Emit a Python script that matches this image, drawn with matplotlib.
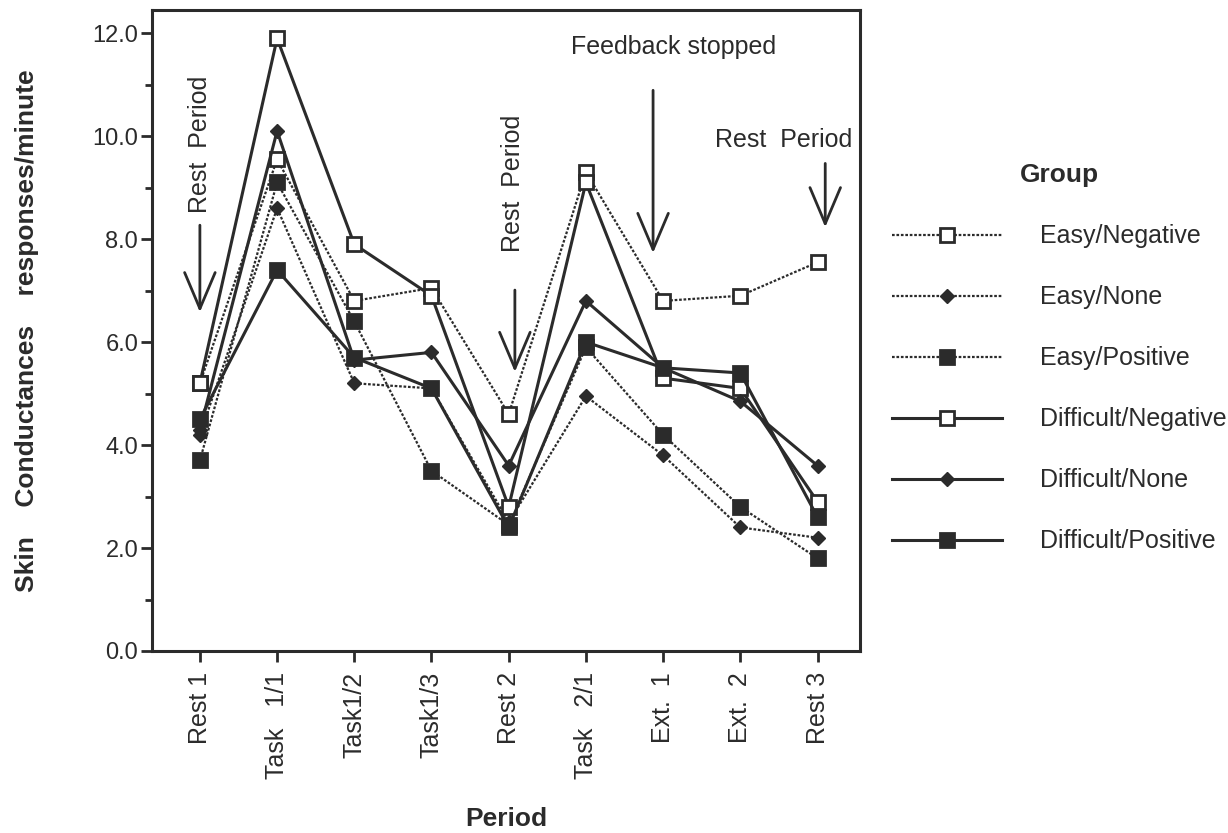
import matplotlib
matplotlib.use("Agg")
import matplotlib.pyplot as plt
from matplotlib.ticker import MultipleLocator

plt.rcParams['font.family'] = ['Liberation Sans', 'DejaVu Sans']
ink = "#2b2b2b"

periods = ["Rest 1", "Task   1/1", "Task1/2", "Task1/3", "Rest 2",
           "Task   2/1", "Ext.  1", "Ext.  2", "Rest 3"]

# mean responses per minute for each group
easy_negative = [5.2, 9.55, 6.8, 7.05, 4.6, 9.3, 6.8, 6.9, 7.55]
easy_none = [4.2, 8.6, 5.2, 5.1, 2.5, 4.95, 3.8, 2.4, 2.2]
easy_positive = [3.7, 9.1, 6.4, 3.5, 2.45, 5.9, 4.2, 2.8, 1.8]
difficult_negative = [5.2, 11.9, 7.9, 6.9, 2.8, 9.1, 5.3, 5.1, 2.9]
difficult_none = [4.3, 10.1, 5.65, 5.8, 3.6, 6.8, 5.5, 4.85, 3.6]
difficult_positive = [4.5, 7.4, 5.7, 5.1, 2.4, 6.0, 5.5, 5.4, 2.6]

x = list(range(len(periods)))

fig = plt.figure(figsize=(12.28, 8.33), dpi=100)
ax = fig.add_axes([0.1238, 0.2185, 0.5765, 0.7695])

dotted = (0, (1.2, 0.8))
sq = dict(marker="s", markersize=10, markeredgewidth=2)
dm = dict(marker="D", markersize=7, markeredgewidth=1)

ax.plot(x, easy_negative, color=ink, lw=1.6, ls=dotted, mfc="white", mec=ink,
        label="Easy/Negative", **sq)
ax.plot(x, easy_none, color=ink, lw=1.6, ls=dotted, mfc=ink, mec=ink,
        label="Easy/None", **dm)
ax.plot(x, easy_positive, color=ink, lw=1.6, ls=dotted, mfc=ink, mec=ink,
        label="Easy/Positive", **sq)
ax.plot(x, difficult_negative, color=ink, lw=2.2, mfc="white", mec=ink,
        label="Difficult/Negative", **sq)
ax.plot(x, difficult_none, color=ink, lw=2.2, mfc=ink, mec=ink,
        label="Difficult/None", **dm)
ax.plot(x, difficult_positive, color=ink, lw=2.2, mfc=ink, mec=ink,
        label="Difficult/Positive", **sq)

ax.set_xlim(-0.62, 8.55)
ax.set_ylim(0, 12.45)
ax.set_xticks(x)
ax.set_xticklabels(periods, rotation=90, fontsize=18, color=ink)
ax.yaxis.set_major_locator(MultipleLocator(2))
ax.yaxis.set_minor_locator(MultipleLocator(1))
ax.yaxis.set_major_formatter(lambda v, p: "%.1f" % v)
ax.tick_params(axis="y", which="major", labelsize=17, length=8, width=2,
               colors=ink, pad=2)
ax.tick_params(axis="y", which="minor", length=5, width=2, colors=ink)
ax.tick_params(axis="x", length=8, width=2, colors=ink, pad=7)
for s in ax.spines.values():
    s.set_linewidth(2.2)
    s.set_color(ink)

ax.set_xlabel("Period", fontsize=19, fontweight="bold", color=ink, labelpad=20)
ax.set_ylabel("Skin    Conductances    responses/minute", fontsize=19,
              fontweight="bold", color=ink, labelpad=38)

# annotation arrows
arrow = dict(arrowstyle="->,head_length=1.3,head_width=0.55", lw=2.0,
             color=ink, mutation_scale=20, shrinkA=0, shrinkB=0)
ax.text(0, 9.84, "Rest  Period", rotation=90, ha="center", va="center",
        fontsize=18, color=ink)
ax.annotate("", xy=(0, 6.58), xytext=(0, 8.27), arrowprops=arrow)
ax.text(4.05, 9.09, "Rest  Period", rotation=90, ha="center", va="center",
        fontsize=18, color=ink)
ax.annotate("", xy=(4.08, 5.42), xytext=(4.08, 7.01), arrowprops=arrow)
ax.text(6.13, 11.73, "Feedback stopped", ha="center", va="center",
        fontsize=18, color=ink)
ax.annotate("", xy=(5.87, 7.73), xytext=(5.87, 10.89), arrowprops=arrow)
ax.text(7.56, 9.92, "Rest  Period", ha="center", va="center",
        fontsize=18, color=ink)
ax.annotate("", xy=(8.1, 8.23), xytext=(8.1, 9.47), arrowprops=arrow)

leg = ax.legend(loc="upper left", bbox_to_anchor=(1.014, 0.796), frameon=False,
                fontsize=18, title="Group", handlelength=4.4,
                handletextpad=1.5, labelspacing=1.48)
leg.get_title().set_fontweight("bold")
leg.get_title().set_fontsize(19)
leg.get_title().set_color(ink)
for t in leg.get_texts():
    t.set_color(ink)

fig.savefig("out.png", dpi=100)
